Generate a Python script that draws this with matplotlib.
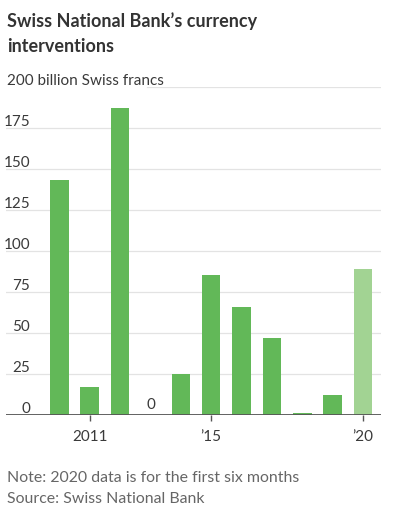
import matplotlib.pyplot as plt
import matplotlib.transforms as mtransforms

# data
years = [2010, 2011, 2012, 2013, 2014, 2015, 2016, 2017, 2018, 2019, 2020]
values = [143.5, 17, 187.5, 0, 25, 85.5, 66, 47, 1.5, 12.5, 89]
partial_year = 2020
yticks = [0, 25, 50, 75, 100, 125, 150, 175]
xticks = [2011, 2015, 2020]
xticklabels = ['2011', '\u201915', '\u201920']

plt.rcParams['font.family'] = ['Lato', 'DejaVu Sans']

fig = plt.figure(figsize=(3.97, 5.10), dpi=100)
ax = fig.add_axes([6 / 397, 1 - 416 / 510, 375 / 397, 328 / 510])

green = '#62b858'
light_green = '#a2d393'
colors = [light_green if y == partial_year else green for y in years]
ax.bar(years, values, width=0.61, color=colors, zorder=2)

ax.set_xlim(2008.245, 2020.59)
ax.set_ylim(0, 200)

txt = dict(fontsize=11, color='#3a3a3a')

# gridlines + labels sitting above them
for t in yticks:
    if t > 0:
        ax.axhline(t, color='#e3e3e3', lw=0.9, zorder=1)
    ax.text(0.064, t, str(t), transform=ax.get_yaxis_transform(),
            ha='right', va='bottom', **txt)
ax.axhline(200, xmin=0.375, color='#e3e3e3', lw=0.9, zorder=1)
ax.text(0.003, 200, '200 billion Swiss francs', transform=ax.get_yaxis_transform(),
        ha='left', va='bottom', **txt)

# zero-value label
for y, v in zip(years, values):
    if v == 0:
        ax.text(y, 0, '0', ha='center', va='bottom',
                transform=ax.transData + mtransforms.ScaledTranslation(0, 3 / 72, fig.dpi_scale_trans),
                **txt)

ax.axhline(0, color='#555555', lw=1.3, zorder=3)

for s in ax.spines.values():
    s.set_visible(False)
ax.set_yticks([])
ax.set_xticks(xticks)
ax.set_xticklabels(xticklabels, fontsize=11, color='#3a3a3a')
ax.tick_params(axis='x', length=4, width=1, color='#555555', pad=6)

fig.text(7 / 397, 1 - 27 / 510, 'Swiss National Bank\u2019s currency', fontsize=13,
         fontweight='bold', color='#333333', va='baseline')
fig.text(7 / 397, 1 - 52 / 510, 'interventions', fontsize=13,
         fontweight='bold', color='#333333', va='baseline')

fig.text(7 / 397, 1 - 482 / 510, 'Note: 2020 data is for the first six months',
         fontsize=11.4, color='#666666', va='baseline')
fig.text(7 / 397, 1 - 503 / 510, 'Source: Swiss National Bank',
         fontsize=11.4, color='#666666', va='baseline')

fig.savefig('out.png', dpi=100)
